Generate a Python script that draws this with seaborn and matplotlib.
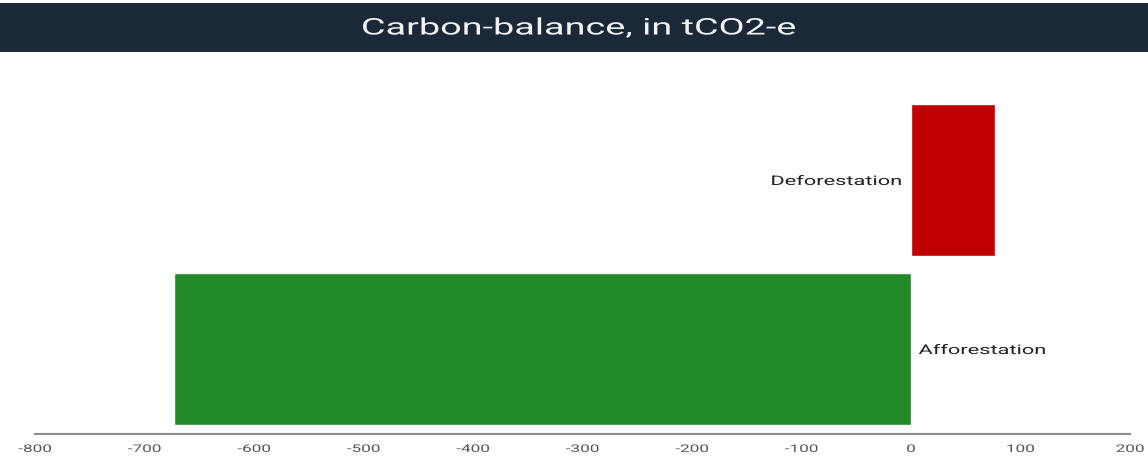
import matplotlib
matplotlib.use("Agg")
import matplotlib.pyplot as plt
from matplotlib.patches import Rectangle
from matplotlib.patheffects import AbstractPathEffect
from matplotlib.transforms import Affine2D
import pandas as pd
import seaborn as sns

# Carbon balance per land-use change, tCO2-e
categories = ["Deforestation", "Afforestation"]
values = [77, -673]
bar_colors = ["#c00000", "#228b27"]
x_ticks = [-800, -700, -600, -500, -400, -300, -200, -100, 0, 100, 200]
title = "Carbon-balance, in tCO2-e"


class HStretch(AbstractPathEffect):
    """Draw text glyphs widened horizontally about a chosen anchor."""

    def __init__(self, sx, anchor="center"):
        super().__init__()
        self.sx = sx
        self.anchor = anchor

    def draw_path(self, renderer, gc, tpath, affine, rgbFace=None):
        ext = tpath.get_extents()
        if self.anchor == "left":
            cx = ext.x0
        elif self.anchor == "right":
            cx = ext.x1
        else:
            cx = 0.5 * (ext.x0 + ext.x1)
        stretch = Affine2D().translate(-cx, 0).scale(self.sx, 1).translate(cx, 0)
        renderer.draw_path(gc, tpath, stretch + affine, rgbFace)


SX = 1.65

sns.set_theme(style="white")
plt.rcParams["font.family"] = ["Roboto", "DejaVu Sans"]

W, H, DPI = 1148, 457, 100
fig = plt.figure(figsize=(W / DPI, H / DPI), dpi=DPI)

# Dark title banner across the top
fig.patches.append(Rectangle((0, 1 - 52 / H), 1, 49 / H, transform=fig.transFigure,
                             facecolor="#1b2838", edgecolor="none", zorder=0))
fig.text(0.504, 1 - 28 / H, title, ha="center", va="center",
         color="#f2f2f2", fontsize=16.5, path_effects=[HStretch(SX, "center")])

ax = fig.add_axes([35 / W, 1 - 433.5 / H, 1095 / W, 338 / H])
df = pd.DataFrame({"category": categories, "value": values})
sns.barplot(data=df, x="value", y="category", hue="category",
            palette=dict(zip(categories, bar_colors)), orient="h",
            width=0.9, legend=False, ax=ax, saturation=1)

ax.set_xlim(-800, 200)
ax.set_ylim(1.5, -0.5)
ax.set_xticks(x_ticks)
ax.set_xticklabels([str(t) for t in x_ticks], fontsize=7.5, color="#555555")
ax.tick_params(axis="x", length=3, width=1, color="#888888", pad=6, direction="inout")
ax.set_yticks([])
ax.set_xlabel("")
ax.set_ylabel("")
for side in ["top", "right", "left"]:
    ax.spines[side].set_visible(False)
ax.spines["bottom"].set_color("#8a8a8a")
ax.spines["bottom"].set_linewidth(1.5)

for tick in ax.xaxis.get_major_ticks():
    tick.label1.set_path_effects([HStretch(SX, "center")])

# Category labels beside the zero line, on the side opposite the bar
for i, (cat, val) in enumerate(zip(categories, values)):
    if val >= 0:
        ax.text(-8, i, cat, ha="right", va="center_baseline", fontsize=9.5,
                color="#222222", path_effects=[HStretch(SX, "right")])
    else:
        ax.text(7, i, cat, ha="left", va="center_baseline", fontsize=9.5,
                color="#222222", path_effects=[HStretch(SX, "left")])

fig.savefig("out.png", dpi=DPI)
